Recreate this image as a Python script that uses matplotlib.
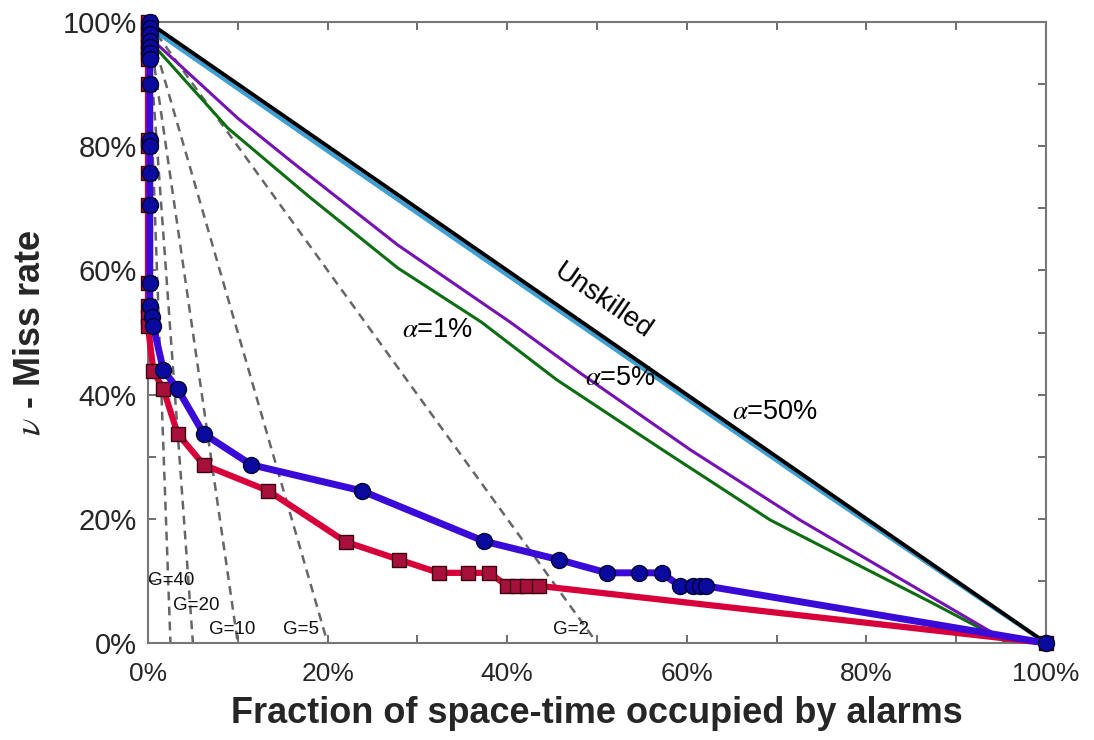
import numpy as np
import matplotlib
matplotlib.use("Agg")
from matplotlib import pyplot as plt

plt.rcParams['font.family'] = ['Liberation Sans', 'DejaVu Sans']
plt.rcParams['mathtext.fontset'] = 'stix'

# model A (blue circles): fraction of alarms vs miss rate
tau_a = [0.002, 0.002, 0.002, 0.002, 0.002, 0.002, 0.002, 0.002, 0.002, 0.002,
         0.002, 0.002, 0.002, 0.002, 0.004, 0.006, 0.017, 0.033, 0.062, 0.115,
         0.238, 0.374, 0.458, 0.511, 0.547, 0.572, 0.592, 0.607, 0.615, 0.621, 1.0]
nu_a = [1.0, 0.99, 0.98, 0.97, 0.96, 0.95, 0.94, 0.90, 0.81, 0.80,
        0.757, 0.705, 0.58, 0.543, 0.525, 0.51, 0.44, 0.409, 0.337, 0.287,
        0.245, 0.164, 0.134, 0.113, 0.113, 0.113, 0.092, 0.092, 0.092, 0.092, 0.0]

# model B (red squares)
tau_b = [0.0, 0.0, 0.0, 0.0, 0.0, 0.0, 0.0, 0.0, 0.0, 0.0,
         0.0, 0.0, 0.0, 0.0, 0.0, 0.0, 0.006, 0.017, 0.033, 0.062,
         0.134, 0.220, 0.280, 0.324, 0.356, 0.380, 0.400, 0.411, 0.422, 0.435, 1.0]
nu_b = [1.0, 0.99, 0.98, 0.97, 0.96, 0.95, 0.94, 0.90, 0.81, 0.80,
        0.757, 0.705, 0.58, 0.543, 0.525, 0.51, 0.438, 0.409, 0.337, 0.287,
        0.245, 0.163, 0.134, 0.113, 0.113, 0.113, 0.092, 0.092, 0.092, 0.092, 0.0]

# confidence bounds of the unskilled forecast
tau_01 = [0.003, 0.009, 0.089, 0.18, 0.278, 0.371, 0.455, 0.573, 0.693, 0.874, 0.958]
nu_01 = [0.985, 0.958, 0.829, 0.718, 0.604, 0.517, 0.424, 0.311, 0.198, 0.064, 0.0]
tau_05 = [0.0, 0.011, 0.1, 0.16, 0.278, 0.403, 0.481, 0.604, 0.726, 0.941, 1.0]
nu_05 = [0.99, 0.963, 0.845, 0.775, 0.641, 0.517, 0.435, 0.311, 0.198, 0.016, 0.0]
tau_50 = [0.0, 0.25, 0.5, 0.75, 1.0]
nu_50 = [0.993, 0.742, 0.493, 0.244, 0.0]

# constant probability gain lines
gains = [2, 5, 10, 20, 40]
gain_labels = ['G=2', 'G=5', 'G=10', 'G=20', 'G=40']
gain_label_pos = [(0.451, 0.022), (0.150, 0.022), (0.068, 0.022), (0.028, 0.061), (0.0, 0.101)]

fig = plt.figure(figsize=(10.94, 7.4), dpi=100)
ax = fig.add_axes([148/1094, 97/740, 898/1094, 621/740])

for g in gains:
    t = np.array([0.0, 1.0 / g])
    ax.plot(t, 1 - g * t, '--', color='#666666', lw=1.8, dashes=(3.5, 2.5), zorder=1)
for lab, (x, y) in zip(gain_labels, gain_label_pos):
    ax.text(x, y, lab, fontsize=13.5, ha='left', va='center', color='#111111', zorder=6)

ax.plot(tau_01, nu_01, color='#0c6e10', lw=2.2, zorder=2)
ax.plot(tau_05, nu_05, color='#7612b4', lw=2.2, zorder=2)
ax.plot(tau_50, nu_50, color='#3d9fd2', lw=3.0, zorder=2)
ax.plot([0, 1], [1, 0], color='black', lw=2.8, zorder=3)

ax.plot(tau_b, nu_b, '-', color='#d8003a', lw=4.5, marker='s', ms=10,
        mfc='#a8103c', mec='#3a0010', mew=1.0, zorder=4, clip_on=False)
ax.plot(tau_a, nu_a, '-', color='#3a0ad8', lw=5, marker='o', ms=11.5,
        mfc='#0a0a9e', mec='#000030', mew=1.0, zorder=5, clip_on=False)

ax.text(0.507, 0.55, 'Unskilled', fontsize=20, rotation=-34.7, ha='center', va='center',
        rotation_mode='anchor', zorder=6)
ax.text(0.283, 0.504, r'$\alpha$=1%', fontsize=19.5, ha='left', va='center', zorder=6)
ax.text(0.487, 0.427, r'$\alpha$=5%', fontsize=19.5, ha='left', va='center', zorder=6)
ax.text(0.650, 0.372, r'$\alpha$=50%', fontsize=19.5, ha='left', va='center', zorder=6)

ax.set_xlim(0, 1)
ax.set_ylim(0, 1)
ticks = np.linspace(0, 1, 11)
ax.set_xticks(ticks)
ax.set_yticks(ticks)
ax.set_xticklabels(['%d%%' % round(v * 100) if i % 2 == 0 else '' for i, v in enumerate(ticks)],
                   family=['Liberation Sans Narrow', 'Liberation Sans'])
ax.set_yticklabels(['%d%%' % round(v * 100) if i % 2 == 0 else '' for i, v in enumerate(ticks)])
ax.tick_params(direction='in', length=6, width=1.2, color='#555555',
               labelcolor='#262626', top=True, right=True)
ax.tick_params(axis='x', pad=14, labelsize=19)
ax.tick_params(axis='y', pad=8, labelsize=21)
for s in ax.spines.values():
    s.set_color('#777777')
    s.set_linewidth(1.5)

ax.set_xlabel('Fraction of space-time occupied by alarms', fontsize=26, fontweight='bold',
              color='#262626', labelpad=7)
ax.set_ylabel(r'$\nu$ - Miss rate', fontsize=26, fontweight='bold', color='#262626', labelpad=11)

fig.savefig('out.png', dpi=100)
